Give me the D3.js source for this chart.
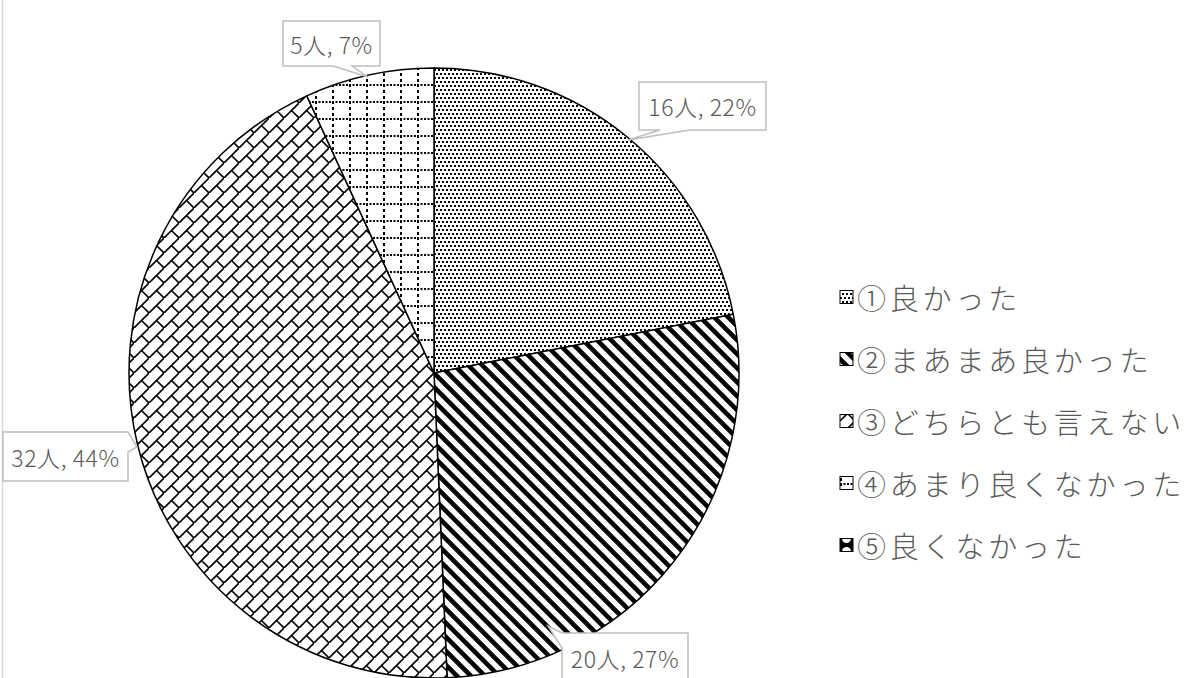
<!DOCTYPE html>
<html>
<head>
<meta charset="utf-8">
<script src="https://cdn.jsdelivr.net/npm/d3@7"></script>
<style>
  html, body { margin: 0; padding: 0; background: #fff; }
  svg { display: block; }
  text { font-family: "Noto Sans CJK JP", "Noto Sans", sans-serif; font-weight: 300; }
</style>
</head>
<body>
<svg id="chart" width="1192" height="678"></svg>
<script>
// ---- data ----
const categories = ["①良かった", "②まあまあ良かった", "③どちらとも言えない", "④あまり良くなかった", "⑤良くなかった"];
const counts = [16, 20, 32, 5, 0];
const unit = "人";

// ---- layout (not data) ----
const center = [434, 373];
const radius = 305;
const patternIds = ["p-dots", "p-wdiag", "p-brick", "p-grid", "p-circle"];
// callout boxes: [x0,y0,x1,y1], pointer side, pointer base range, tip
const callouts = [
  { box: [639, 82, 766, 130], side: "bottom", base: [660, 690], tip: [628, 140] },
  { box: [562, 633, 688, 682], side: "left", base: [633, 648], tip: [548, 626] },
  { box: [3, 432, 128, 481], side: "right", base: [432, 452], tip: [137, 447] },
  { box: [283, 21, 380, 66], side: "bottom", base: [333, 352], tip: [368, 77] },
  null
];
const legendX = 840, legendY0 = 297, legendStep = 62, markerSize = 13;

const svg = d3.select("#chart");
const defs = svg.append("defs");

// patterns
(function () {
  let p = defs.append("pattern").attr("id", "p-dots").attr("patternUnits", "userSpaceOnUse")
    .attr("width", 8).attr("height", 8);
  p.append("rect").attr("width", 8).attr("height", 8).attr("fill", "#fff");
  [[0, 0], [4, 0], [2, 4], [6, 4]].forEach(([x, y]) =>
    p.append("rect").attr("x", x).attr("y", y).attr("width", 2).attr("height", 2).attr("fill", "#000"));

  p = defs.append("pattern").attr("id", "p-wdiag").attr("patternUnits", "userSpaceOnUse")
    .attr("width", 14).attr("height", 14);
  p.append("rect").attr("width", 14).attr("height", 14).attr("fill", "#fff");
  p.append("path").attr("d", "M-4,-4 L18,18 M-4,10 L4,18 M10,-4 L18,4")
    .attr("stroke", "#000").attr("stroke-width", 4.6);

  p = defs.append("pattern").attr("id", "p-brick").attr("patternUnits", "userSpaceOnUse")
    .attr("width", 15).attr("height", 15);
  p.append("rect").attr("width", 15).attr("height", 15).attr("fill", "#fff");
  p.append("path").attr("d", "M-2,17 L17,-2 M7.5,7.5 L15,15")
    .attr("stroke", "#000").attr("stroke-width", 1.6).attr("fill", "none");

  p = defs.append("pattern").attr("id", "p-grid").attr("patternUnits", "userSpaceOnUse")
    .attr("width", 17).attr("height", 17);
  p.append("rect").attr("width", 17).attr("height", 17).attr("fill", "#fff");
  p.append("path").attr("d", "M0,1 H17").attr("stroke", "#000").attr("stroke-width", 2)
    .attr("stroke-dasharray", "2,1.5");
  p.append("path").attr("d", "M1,0 V17").attr("stroke", "#000").attr("stroke-width", 2)
    .attr("stroke-dasharray", "3,3");

  p = defs.append("pattern").attr("id", "p-circle").attr("patternUnits", "userSpaceOnUse")
    .attr("width", 13).attr("height", 13);
  p.append("rect").attr("width", 13).attr("height", 13).attr("fill", "#000");
  p.append("circle").attr("cx", 6.5).attr("cy", 6.5).attr("r", 4.5).attr("fill", "#fff");
})();

// chart area left border
svg.append("line").attr("x1", 2.5).attr("x2", 2.5).attr("y1", 0).attr("y2", 678)
  .attr("stroke", "#d9d9d9").attr("stroke-width", 1.5);

// pie
const total = d3.sum(counts);
const pie = d3.pie().sort(null).value(d => d)(counts);
const arc = d3.arc().innerRadius(0).outerRadius(radius);
const g = svg.append("g").attr("transform", `translate(${center[0]},${center[1]})`);
g.selectAll("path.slice").data(pie.filter(d => d.value > 0)).join("path")
  .attr("class", "slice")
  .attr("d", arc)
  .attr("fill", d => `url(#${patternIds[d.index]})`)
  .attr("stroke", "#000").attr("stroke-width", 1.5).attr("stroke-linejoin", "round");

// callouts
function calloutPath(c) {
  const [x0, y0, x1, y1] = c.box, [a, b] = c.base, [tx, ty] = c.tip;
  switch (c.side) {
    case "bottom": return `M${x0},${y0}H${x1}V${y1}H${b}L${tx},${ty}L${a},${y1}H${x0}Z`;
    case "top": return `M${x0},${y0}H${a}L${tx},${ty}L${b},${y0}H${x1}V${y1}H${x0}Z`;
    case "left": return `M${x0},${y0}H${x1}V${y1}H${x0}V${b}L${tx},${ty}L${x0},${a}Z`;
    case "right": return `M${x0},${y0}H${x1}V${a}L${tx},${ty}L${x1},${b}V${y1}H${x0}Z`;
  }
}
const labelData = counts.map((v, i) => ({ v, i, c: callouts[i] })).filter(d => d.v > 0 && d.c);
const lg = svg.append("g");
lg.selectAll("path").data(labelData).join("path")
  .attr("d", d => calloutPath(d.c))
  .attr("fill", "#fff").attr("stroke", "#bfbfbf").attr("stroke-width", 1.5);
lg.selectAll("text").data(labelData).join("text")
  .attr("x", d => (d.c.box[0] + d.c.box[2]) / 2)
  .attr("y", d => (d.c.box[1] + d.c.box[3]) / 2)
  .attr("text-anchor", "middle").attr("dominant-baseline", "central")
  .attr("font-size", 23).attr("letter-spacing", 0.6).attr("fill", "#595959")
  .text(d => `${d.v}${unit}, ${Math.round(d.v / total * 100)}%`);

// legend
const leg = svg.append("g");
const items = leg.selectAll("g").data(categories).join("g")
  .attr("transform", (d, i) => `translate(${legendX},${legendY0 + i * legendStep})`);
items.append("rect").attr("x", 0).attr("y", -markerSize / 2).attr("width", markerSize).attr("height", markerSize)
  .attr("fill", (d, i) => `url(#${patternIds[i]})`).attr("stroke", "#000").attr("stroke-width", 1);
items.append("text").attr("x", markerSize + 4).attr("y", 0)
  .attr("dominant-baseline", "central").attr("font-size", 29).attr("letter-spacing", 3.8)
  .attr("fill", "#595959").text(d => d);
</script>
</body>
</html>
